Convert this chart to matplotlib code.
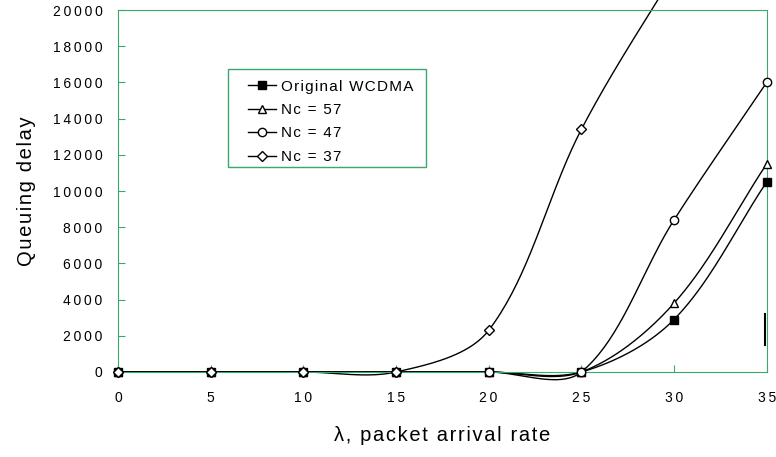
import numpy as np
import matplotlib.pyplot as plt
from matplotlib.patches import Rectangle

plt.rcParams['font.family'] = ['Liberation Sans', 'DejaVu Sans']

x = [0, 5, 10, 15, 20, 25, 30, 35]
original = [0, 0, 0, 0, 0, 0, 2900, 10500]
nc57 = [0, 0, 0, 0, 0, 0, 3800, 11500]
nc47 = [0, 0, 0, 0, 0, 0, 8400, 16000]
nc37 = [0, 0, 0, 0, 2300, 13400, 22000, 30000]
yticks = list(range(0, 20001, 2000))
# stray vertical mark near the right edge
stray_x = [34.9, 34.9]
stray_y = [1500, 3200]

green = '#3aa76d'
HAIR = '\u200a'
THIN = '\u2009'


def spaced(s, sp=HAIR):
    # the original text is drawn with wide letter spacing
    return sp.join(s)


def smooth(xs, ys, n=40, sx=18.54, sy=0.0181, k=1 / 3):
    # Excel-like smoothed line, chord weighted tangents in pixel space
    p = np.column_stack([np.asarray(xs, float) * sx, np.asarray(ys, float) * sy])
    m = len(p)
    outx, outy = [], []
    t = np.linspace(0, 1, n)[:, None]
    cin = p.copy()
    cout = p.copy()
    for i in range(1, m - 1):
        d = p[i + 1] - p[i - 1]
        l1 = np.hypot(*(p[i] - p[i - 1]))
        l2 = np.hypot(*(p[i + 1] - p[i]))
        cout[i] = p[i] + d * k * l2 / (l1 + l2)
        cin[i] = p[i] - d * k * l1 / (l1 + l2)
    cout[0] = p[0] + (p[1] - p[0]) / 3
    cin[-1] = p[-1] - (p[-1] - p[-2]) / 3
    for i in range(m - 1):
        b = (1 - t) ** 3 * p[i] + 3 * (1 - t) ** 2 * t * cout[i] \
            + 3 * (1 - t) * t ** 2 * cin[i + 1] + t ** 3 * p[i + 1]
        outx.extend(b[:, 0] / sx)
        outy.extend(b[:, 1] / sy)
    return outx, outy


fig = plt.figure(figsize=(7.76, 4.57), dpi=100)
ax = fig.add_axes([0.152, 0.186, 0.836, 0.792])

series = [
    ('Original WCDMA', original, 's', 'black'),
    ('Nc = 57', nc57, '^', 'white'),
    ('Nc = 47', nc47, 'o', 'white'),
    ('Nc = 37', nc37, 'D', 'white'),
]

for label, ys, m, fc in series:
    sx, sy = smooth(x, ys)
    ax.plot(sx, sy, color='black', lw=1, clip_on=False)
    mx = [a for a, b in zip(x, ys) if b <= 20000]
    my = [b for b in ys if b <= 20000]
    ms = 6 if m != 'D' else 5
    ax.plot(mx, my, ls='none', marker=m, ms=ms, mfc=fc, mec='black', mew=1, clip_on=False, zorder=5)
    ax.plot([], [], color='black', lw=1, marker=m, ms=ms, mfc=fc, mec='black', label=spaced(label))

ax.plot(stray_x, stray_y, color='black', lw=1.5)

ax.set_xlim(0, 35)
ax.set_ylim(0, 20000)
ax.set_xticks(x)
ax.set_xticklabels([spaced(str(v), THIN) for v in x])
ax.set_yticks(yticks)
ax.set_yticklabels([spaced(str(v), THIN) for v in yticks])
for s in ax.spines.values():
    s.set_color(green)
ax.tick_params(direction='in', color=green, length=5, labelsize=10)
ax.tick_params(axis='x', pad=14)
ax.tick_params(axis='y', pad=11)

ax.set_xlabel(spaced('λ, packet arrival rate'), fontsize=14.5, labelpad=15)
ax.set_ylabel(spaced('Queuing delay'), fontsize=14.5, labelpad=12)

# legend without frame, box drawn separately
leg = ax.legend(loc='upper left', bbox_to_anchor=(0.19, 0.827), fontsize=11,
                frameon=False, handlelength=1.85, handletextpad=0.3,
                borderpad=0.45, labelspacing=0.62, borderaxespad=0)
ax.add_patch(Rectangle((0.1695, 0.567), 0.305, 0.27, transform=ax.transAxes,
                       fill=False, edgecolor=green, lw=1, zorder=6))

fig.savefig('out.png', dpi=100)
